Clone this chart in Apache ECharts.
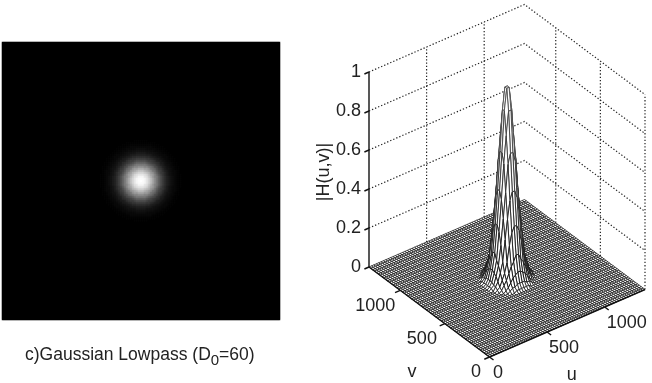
<!DOCTYPE html>
<html><head><meta charset="utf-8">
<style>html,body{margin:0;padding:0;background:#fff}#c{width:652px;height:383px}</style>
<script src="https://cdn.jsdelivr.net/npm/echarts@6/dist/echarts.min.js"></script>
</head><body><div id="c"></div>
<script>
// Brightness, one entry per pixel of radius from the blob centre
const radialProfile = [1,1,.99,.98,.96,.93,.9,.87,.83,.79,.75,.7,.66,.61,.56,.52,.47,.43,.38,.34,.3,.27,.24,.21,.18,.16,.13,.11,.1,.08,.07,.06,.05,.04,.03,.03,.02,.02,.01,.01,.01,0];
const imageCells = 139;
const meshIntervals = 65;
const uTicks = [0,500,1000];
const vTicks = [0,500,1000];
const zTicks = [0,0.2,0.4,0.6,0.8,1];
const zTickLabels = ['0','0.2','0.4','0.6','0.8','1'];
const uTickLabels = ['0','500','1000'];
const vTickLabels = ['0','500','1000'];
const axisMax = 1350;
const unitsPerRing = 4.6;

// view of the 3-D box
const F=[489.5,357], UE=[645,289.5], VE=[369,267], ZH=195;
const P=(u,v,z)=>[F[0]+(UE[0]-F[0])*u/axisMax+(VE[0]-F[0])*v/axisMax, F[1]+(UE[1]-F[1])*u/axisMax+(VE[1]-F[1])*v/axisMax-ZH*z];
const prof=r=>{const k=Math.round(r);return k<radialProfile.length?radialProfile[k]:0;};

// image
const heat=[];
for(let i=0;i<imageCells;i++)for(let j=0;j<imageCells;j++){
  heat.push([i,j,prof(2*Math.hypot(i-69,j-69))]);
}
const idx=Array.from({length:imageCells},(_,i)=>i);

// mesh, back to front
const nodes=Array.from({length:meshIntervals+1},(_,i)=>i*axisMax/meshIntervals);
const H=(u,v)=>prof(Math.hypot(u-axisMax/2,v-axisMax/2)/unitsPerRing);
const quads=[];
for(let a=meshIntervals-1;a>=0;a--)for(let b=meshIntervals-1;b>=0;b--){
  const u0=nodes[a],u1=nodes[a+1],v0=nodes[b],v1=nodes[b+1];
  quads.push([[u0,v0,H(u0,v0)],[u1,v0,H(u1,v0)],[u1,v1,H(u1,v1)],[u0,v1,H(u0,v1)]]);
}

// wall grid, drawn dotted
const dotted=[];
zTicks.slice(1).forEach(z=>dotted.push([[0,axisMax,z],[axisMax,axisMax,z],[axisMax,0,z]]));
uTicks.slice(1).forEach(u=>dotted.push([[u,axisMax,0],[u,axisMax,1]]));
vTicks.forEach(v=>dotted.push([[axisMax,v,0],[axisMax,v,1]]));

// solid axes and ticks
const solid=[[[0,axisMax,0],[0,axisMax,1]],[[0,0,0],[axisMax,0,0]],[[0,0,0],[0,axisMax,0]]];
uTicks.forEach(u=>solid.push([[u,0,0],[u,-45,0]]));
vTicks.forEach(v=>solid.push([[0,v,0],[-45,v,0]]));
zTicks.forEach(z=>solid.push([[0,axisMax,z],[-40,axisMax,z]]));

// labels in 3-D anchor + pixel offset
const labels=[];
uTicks.forEach((u,i)=>labels.push({p:[u,0,0],t:uTickLabels[i],o:[[8.5,16],[17,16],[22,16]][i]}));
vTicks.forEach((v,i)=>labels.push({p:[0,v,0],t:vTickLabels[i],o:[[-13.5,15],[-23,15],[-25,16]][i]}));
zTicks.forEach((z,i)=>labels.push({p:[0,axisMax,z],t:zTickLabels[i],o:[-8,0.5]}));
const names=[{p:[axisMax*0.42,0,0],t:'u',o:[17,46]},{p:[0,axisMax*0.42,0],t:'v',o:[-27,53]}];

const pts=(api,list)=>list.map(q=>{const p=P(q[0],q[1],q[2]);return api.coord(p);});
const grey=z=>{const c=Math.round(20+z*70);return `rgb(${c},${c},${c})`;};
const ids=a=>a.map((_,i)=>[i,i]);

const chart=echarts.init(document.getElementById('c'),null,{renderer:'canvas'});
chart.setOption({
  animation:false,backgroundColor:'#fff',
  textStyle:{fontFamily:'Liberation Sans'},
  tooltip:{show:false},
  grid:[{left:2,top:42,width:278,height:278,show:false},{left:0,top:0,width:652,height:383,show:false}],
  xAxis:[{type:'category',data:idx,gridIndex:0,show:false},{type:'value',min:0,max:652,gridIndex:1,show:false}],
  yAxis:[{type:'category',data:idx,gridIndex:0,show:false,inverse:true},{type:'value',min:0,max:383,inverse:true,gridIndex:1,show:false}],
  visualMap:{show:false,min:0,max:1,seriesIndex:0,inRange:{color:['#000','#fff']}},
  title:{left:25,top:345,padding:0,text:'{a|c)Gaussian Lowpass (D}{s|0}{a|=60)}',
    textStyle:{fontWeight:'normal',rich:{a:{fontSize:17.5,fontWeight:'normal',color:'#222',fontFamily:'Liberation Sans',lineHeight:20},
      s:{fontSize:15,fontWeight:'normal',color:'#222',fontFamily:'Liberation Sans',padding:[12,0,0,0],lineHeight:20}}}},
  series:[
    {type:'heatmap',data:heat,xAxisIndex:0,yAxisIndex:0,progressive:0,itemStyle:{borderWidth:0},emphasis:{disabled:true}},
    {type:'custom',xAxisIndex:1,yAxisIndex:1,clip:false,silent:true,progressive:0,data:ids(dotted),
      renderItem:(p,api)=>({type:'polyline',shape:{points:pts(api,dotted[api.value(0)])},
        style:{fill:null,stroke:'#222',lineWidth:1.2,lineDash:[1.3,2]}})},
    {type:'custom',xAxisIndex:1,yAxisIndex:1,clip:false,silent:true,progressive:0,data:ids(quads),
      renderItem:(p,api)=>{const q=quads[api.value(0)];const z=(q[0][2]+q[1][2]+q[2][2]+q[3][2])/4;
        return {type:'polygon',shape:{points:pts(api,q)},style:{fill:'#fff',stroke:grey(z),lineWidth:z>0.02?0.95:0.75}};}},
    {type:'custom',xAxisIndex:1,yAxisIndex:1,clip:false,silent:true,progressive:0,data:ids(solid),
      renderItem:(p,api)=>({type:'polyline',shape:{points:pts(api,solid[api.value(0)])},
        style:{fill:null,stroke:'#111',lineWidth:1.4}})},
    {type:'custom',xAxisIndex:1,yAxisIndex:1,clip:false,silent:true,progressive:0,data:ids(labels),
      renderItem:(p,api)=>{const l=labels[api.value(0)];const c=api.coord(P(...l.p));
        const isZ=l.o[0]===-8;
        return {type:'text',x:c[0]+l.o[0],y:c[1]+l.o[1],style:{text:l.t,fontSize:18,fontFamily:'Liberation Sans',fill:'#222',
          align:isZ?'right':'center',verticalAlign:'middle'}};}},
    {type:'custom',xAxisIndex:1,yAxisIndex:1,clip:false,silent:true,data:ids(names),
      renderItem:(p,api)=>{const l=names[api.value(0)];const c=api.coord(P(...l.p));
        return {type:'text',x:c[0]+l.o[0],y:c[1]+l.o[1],style:{text:l.t,fontSize:18,fontFamily:'Liberation Sans',fill:'#222',align:'center',verticalAlign:'middle'}};}},
    {type:'custom',xAxisIndex:1,yAxisIndex:1,clip:false,silent:true,data:[[0,0]],
      renderItem:(p,api)=>{const c=api.coord([324,172]);
        return {type:'text',x:c[0],y:c[1],rotation:Math.PI/2,style:{text:'|H(u,v)|',fontSize:18,fontFamily:'Liberation Sans',fill:'#222',align:'center',verticalAlign:'middle'}};}}
  ]
});
</script></body></html>
